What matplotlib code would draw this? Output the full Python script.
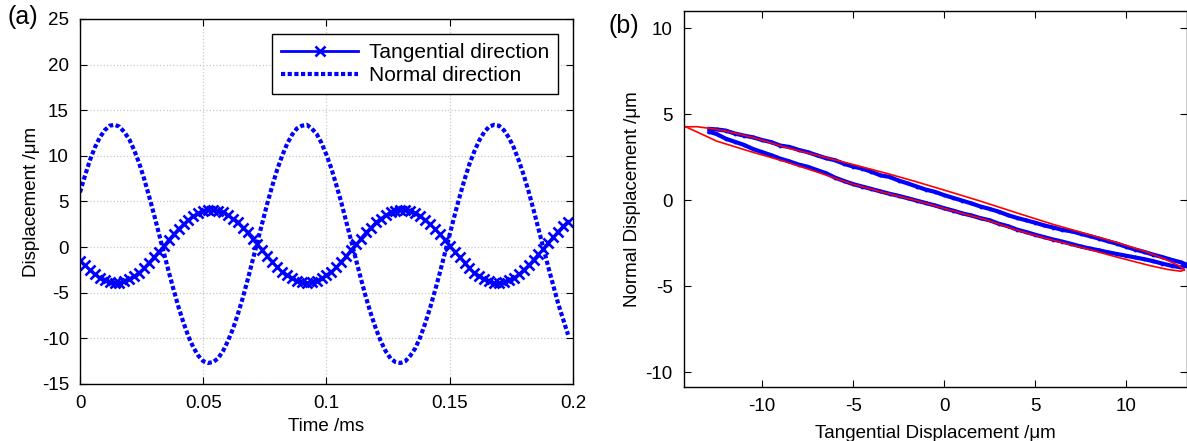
import matplotlib
matplotlib.use('Agg')
import matplotlib.pyplot as plt

plt.rcParams['font.family'] = ['Liberation Sans', 'DejaVu Sans']
plt.rcParams['axes.unicode_minus'] = False

# (a) time series, t in ms, step 0.002
time_ms = [round(0.002 * i, 3) for i in range(100)]
tangential = [
    -1.5, -2.0, -2.5, -3.0, -3.4, -3.6, -3.8, -3.9, -3.9, -3.7,
    -3.5, -3.2, -2.8, -2.3, -1.7, -1.1, -0.5, 0.1, 0.8, 1.4,
    2.0, 2.5, 3.0, 3.4, 3.7, 4.0, 4.1, 4.1, 4.0, 3.8,
    3.5, 3.1, 2.7, 2.1, 1.6, 0.9, 0.3, -0.3, -1.0, -1.6,
    -2.2, -2.7, -3.1, -3.4, -3.7, -3.8, -3.9, -3.8, -3.7, -3.4,
    -3.1, -2.7, -2.2, -1.6, -1.0, -0.3, 0.3, 0.9, 1.6, 2.1,
    2.7, 3.1, 3.5, 3.8, 4.0, 4.1, 4.1, 4.0, 3.7, 3.4,
    3.0, 2.5, 2.0, 1.4, 0.8, 0.1, -0.5, -1.1, -1.7, -2.3,
    -2.8, -3.2, -3.5, -3.7, -3.9, -3.9, -3.8, -3.6, -3.4, -3.0,
    -2.5, -2.0, -1.4, -0.8, -0.2, 0.5, 1.1, 1.7, 2.3, 2.8,
]
normal = [
    6.0, 7.8, 9.5, 10.9, 12.0, 12.8, 13.3, 13.4, 13.2, 12.6,
    11.8, 10.6, 9.2, 7.5, 5.6, 3.6, 1.5, -0.6, -2.7, -4.7,
    -6.6, -8.3, -9.8, -11.0, -11.9, -12.5, -12.7, -12.6, -12.2, -11.4,
    -10.3, -9.0, -7.4, -5.6, -3.6, -1.5, 0.6, 2.7, 4.8, 6.7,
    8.5, 10.0, 11.3, 12.3, 13.0, 13.3, 13.4, 13.0, 12.4, 11.4,
    10.1, 8.6, 6.8, 4.9, 2.8, 0.7, -1.4, -3.5, -5.5, -7.3,
    -8.9, -10.3, -11.4, -12.2, -12.6, -12.7, -12.5, -11.9, -11.1, -9.9,
    -8.4, -6.7, -4.8, -2.8, -0.7, 1.4, 3.5, 5.5, 7.4, 9.1,
    10.5, 11.7, 12.6, 13.2, 13.4, 13.3, 12.8, 12.0, 10.9, 9.5,
    7.9, 6.1, 4.1, 2.0, -0.1, -2.2, -4.2, -6.2, -7.9, -9.6,
]

# (b) measured loop, upper and lower branches
branch_x = [
    -12.9, -12.5, -12.0, -11.5, -11.0, -10.5, -10.0, -9.5, -9.0, -8.5,
    -8.0, -7.5, -7.0, -6.5, -6.0, -5.5, -5.0, -4.5, -4.0, -3.5,
    -3.0, -2.5, -2.0, -1.5, -1.0, -0.5, 0.0, 0.5, 1.0, 1.5,
    2.0, 2.5, 3.0, 3.5, 4.0, 4.5, 5.0, 5.5, 6.0, 6.5,
    7.0, 7.5, 8.0, 8.5, 9.0, 9.5, 10.0, 10.5, 11.0, 11.5,
    12.0, 12.5, 13.0, 13.35,
]
upper_y = [
    4.15, 4.12, 4.05, 3.88, 3.76, 3.66, 3.50, 3.38, 3.18, 3.10,
    2.93, 2.80, 2.62, 2.45, 2.33, 2.12, 1.96, 1.84, 1.66, 1.45,
    1.36, 1.15, 0.98, 0.80, 0.62, 0.49, 0.30, 0.14, -0.02, -0.18,
    -0.36, -0.50, -0.66, -0.86, -1.02, -1.16, -1.30, -1.46, -1.58, -1.72,
    -1.80, -1.94, -2.08, -2.22, -2.38, -2.52, -2.70, -2.86, -3.00, -3.16,
    -3.30, -3.46, -3.60, -3.75,
]
lower_y = [
    3.98, 3.85, 3.58, 3.40, 3.22, 2.98, 2.80, 2.62, 2.42, 2.26,
    2.08, 1.95, 1.76, 1.58, 1.32, 1.12, 0.94, 0.80, 0.66, 0.52,
    0.38, 0.26, 0.12, -0.02, -0.16, -0.30, -0.46, -0.60, -0.76, -0.88,
    -1.04, -1.16, -1.36, -1.50, -1.70, -1.84, -2.00, -2.14, -2.28, -2.40,
    -2.54, -2.68, -2.80, -2.90, -3.02, -3.12, -3.22, -3.32, -3.42, -3.54,
    -3.68, -3.80, -3.90, -3.80,
]

# fitted ellipse (red)
fit_upper_x = [-14.2, -13.6, -12.8, -12.0, -11.0, -10.0, -8.8, -7.0, -5.0, -3.0,
               -1.5, 0.3, 2.0, 4.2, 6.0, 8.0, 9.5, 11.0, 12.2, 12.9, 13.2]
fit_upper_y = [4.27, 4.28, 4.17, 4.02, 3.78, 3.50, 3.10, 2.62, 2.08, 1.52,
               1.07, 0.50, -0.05, -0.80, -1.40, -2.00, -2.45, -2.95, -3.45, -3.80, -4.05]
fit_lower_x = [-14.2, -13.6, -12.5, -10.6, -8.8, -7.0, -5.0, -3.3, -1.5, 0.3,
               2.2, 4.2, 5.8, 7.7, 9.5, 11.3, 12.3, 13.0, 13.2]
fit_lower_y = [4.27, 3.98, 3.44, 2.82, 2.27, 1.65, 0.93, 0.45, -0.02, -0.56,
               -1.10, -1.80, -2.27, -2.78, -3.30, -3.79, -4.02, -4.12, -4.05]

fig = plt.figure(figsize=(11.87, 4.41), dpi=100)

# ---- (a) ----
ax1 = fig.add_axes([0.0674, 0.1293, 0.4153, 0.8277])
ax1.plot(time_ms, tangential, color='blue', lw=2, marker='x', ms=7.5, mew=1.9,
         label='Tangential direction')
ax1.plot(time_ms, normal, color='blue', lw=3, dashes=(1, 0.6),
         dash_capstyle='butt', label='Normal direction')
ax1.set_xlim(0, 0.2)
ax1.set_ylim(-15, 25)
ax1.set_xticks([0, 0.05, 0.1, 0.15, 0.2])
ax1.set_xticklabels(['0', '0.05', '0.1', '0.15', '0.2'])
ax1.set_yticks(range(-15, 26, 5))
ax1.grid(True, color='#c8c8c8', linestyle=':', lw=0.9)
ax1.tick_params(direction='in', top=True, right=True, labelsize=13.5,
                length=5, pad=8)
ax1.set_xlabel('Time /ms', fontsize=13.5, labelpad=4)
ax1.set_ylabel('Displacement /\u03bcm', fontsize=13.5, labelpad=1)
leg = ax1.legend(loc='upper right', fontsize=15, fancybox=False, framealpha=1,
                 edgecolor='black', handlelength=3.7, handletextpad=0.5,
                 numpoints=1, borderaxespad=0.7, labelspacing=0.2,
                 borderpad=0.45)
leg.get_frame().set_linewidth(1.0)
fig.text(0.006, 0.945, '(a)', fontsize=18)

# ---- (b) ----
ax2 = fig.add_axes([0.5762, 0.1224, 0.4238, 0.8526])
ax2.plot(branch_x, upper_y, color='blue', lw=3, marker='.', ms=3.5)
ax2.plot(branch_x, lower_y, color='blue', lw=3, marker='.', ms=3.5)
ax2.plot(fit_upper_x, fit_upper_y, color='red', lw=1.2)
ax2.plot(fit_lower_x, fit_lower_y, color='red', lw=1.2)
ax2.set_xlim(-14.3, 13.35)
ax2.set_ylim(-10.85, 11)
ax2.set_xticks([-10, -5, 0, 5, 10])
ax2.set_yticks([-10, -5, 0, 5, 10])
ax2.tick_params(direction='in', top=True, right=True, labelsize=13.5,
                length=5, pad=8)
ax2.set_xlabel('Tangential Displacement /\u03bcm', fontsize=13.5, labelpad=7)
ax2.set_ylabel('Normal Displacement /\u03bcm', fontsize=13.5, labelpad=3)
fig.text(0.513, 0.925, '(b)', fontsize=18)

for ax in (ax1, ax2):
    for s in ax.spines.values():
        s.set_linewidth(1.0)

fig.savefig('out.png', dpi=100)
